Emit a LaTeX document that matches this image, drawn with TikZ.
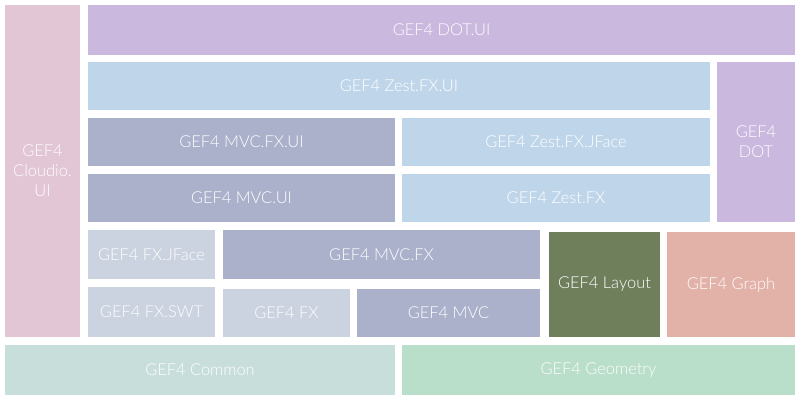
\documentclass[tikz,border=0pt]{standalone}
\usepackage{fontspec}
\setmainfont{Lato Light}
\definecolor{cloudio}{HTML}{E2C6D6}
\definecolor{dot}{HTML}{CBB8DF}
\definecolor{zest}{HTML}{BFD6EA}
\definecolor{mvc}{HTML}{ABB1CB}
\definecolor{fxc}{HTML}{CBD2E0}
\definecolor{layout}{HTML}{6F7F5C}
\definecolor{graph}{HTML}{E2B1A8}
\definecolor{common}{HTML}{C8DEDB}
\definecolor{geom}{HTML}{B9DEC9}
\tikzset{blk/.style={draw=none, text=white, inner sep=0pt, align=center, font=\fontsize{14}{17}\selectfont}}
% \blk{name}{x1}{y1}{x2}{y2}{colour}{text}
\newcommand{\blk}[7]{%
  \node[blk, fill=#6, minimum width={(#4-#2)*0.03cm}, minimum height={(#5-#3)*0.03cm}]
    (#1) at ({(#2+#4)/2},{(#3+#5)/2}) {#7};}
\begin{document}
\begin{tikzpicture}[x=0.03cm, y=-0.03cm]
    \useasboundingbox (0,0) rectangle (800,400);

    % left column
    \blk{cloudioui}{5}{5}{80}{337}{cloudio}{GEF4\\Cloudio.\\UI}

    % top rows
    \blk{dotui}{88}{5}{795}{55}{dot}{GEF4 DOT.UI}
    \blk{zestfxui}{88}{62}{710}{110}{zest}{GEF4 Zest.FX.UI}
    \blk{dotb}{717}{62}{795}{222}{dot}{GEF4\\DOT}
    \blk{mvcfxui}{88}{118}{395}{166}{mvc}{GEF4 MVC.FX.UI}
    \blk{zestjface}{402}{118}{710}{166}{zest}{GEF4 Zest.FX.JFace}
    \blk{mvcui}{88}{174}{395}{222}{mvc}{GEF4 MVC.UI}
    \blk{zestfx}{402}{174}{710}{222}{zest}{GEF4 Zest.FX}

    % middle rows
    \blk{fxjface}{88}{230}{215}{279}{fxc}{GEF4 FX.JFace}
    \blk{mvcfx}{223}{230}{540}{279}{mvc}{GEF4 MVC.FX}
    \blk{layoutb}{549}{232}{660}{337}{layout}{GEF4 Layout}
    \blk{graphb}{667}{232}{795}{337}{graph}{GEF4 Graph}
    \blk{fxswt}{88}{287}{215}{337}{fxc}{GEF4 FX.SWT}
    \blk{fxb}{223}{289}{350}{337}{fxc}{GEF4 FX}
    \blk{mvcb}{357}{289}{540}{337}{mvc}{GEF4 MVC}

    % bottom row
    \blk{commonb}{5}{345}{395}{395}{common}{GEF4 Common}
    \blk{geometry}{402}{345}{795}{395}{geom}{GEF4 Geometry}
\end{tikzpicture}
\end{document}
